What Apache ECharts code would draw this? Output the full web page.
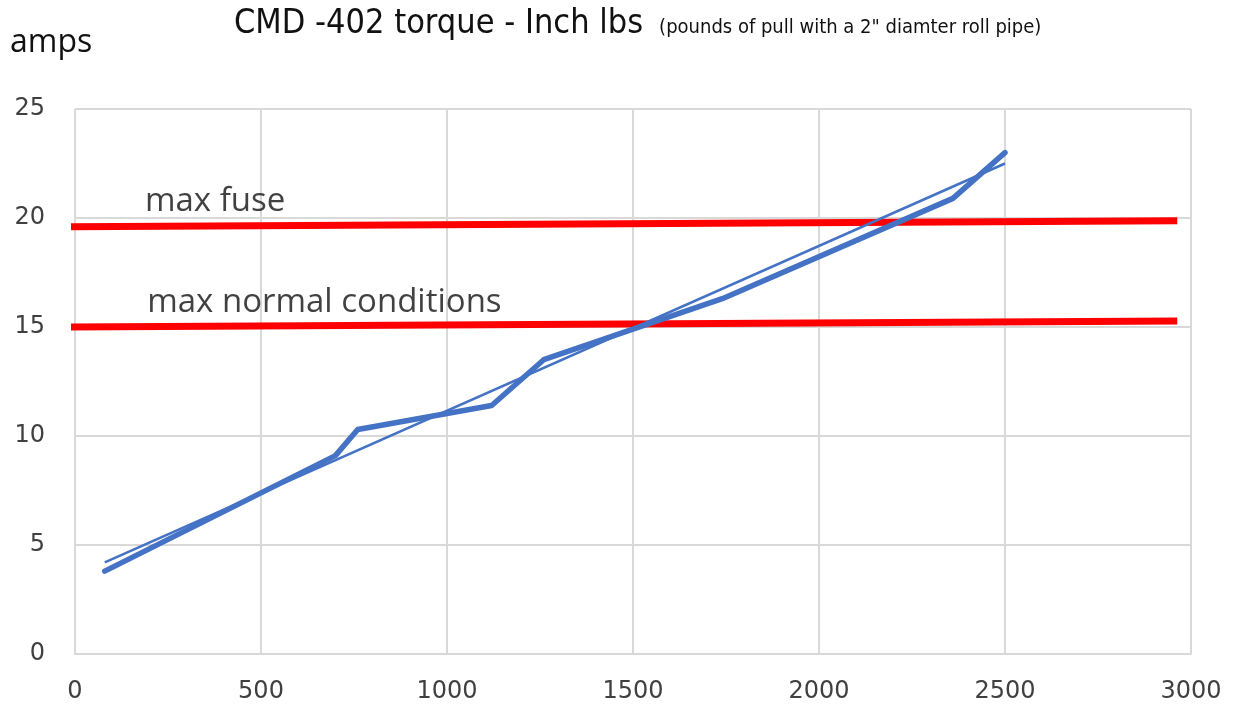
<!DOCTYPE html>
<html>
<head>
    <meta charset="utf-8">
    <title>CMD -402 torque</title>
    <script src="https://cdn.jsdelivr.net/npm/echarts@6/dist/echarts.min.js"></script>
</head>
<body style="margin:0;background:#fff">
<div id="main" style="width:1239px;height:709px"></div>
<script type="text/javascript">
    // measured amps vs inch lbs
    var torque = [80, 700, 760, 1120, 1260, 1740, 2360, 2500];
    var amps = [3.8, 9.1, 10.3, 11.4, 13.5, 16.3, 20.9, 23.0];
    // linear trend line (start, end)
    var trendX = [80, 2500];
    var trendY = [4.2, 22.5];
    // hand drawn limit lines
    var fuseX = [-24, 2963];
    var fuseY = [19.6, 19.87];
    var normalX = [-24, 2963];
    var normalY = [15.0, 15.27];
    // annotation text anchors (left, middle)
    var notes = [
        {text: 'max fuse', x: 188, y: 20.75},
        {text: 'max normal conditions', x: 194, y: 16.1}
    ];

    function pairs(xs, ys) {
        var out = [];
        for (var i = 0; i < xs.length; i++) out.push([xs[i], ys[i]]);
        return out;
    }

    var myChart = echarts.init(document.getElementById('main'));
    var axisFont = {fontFamily: 'DejaVu Sans', fontSize: 24, color: '#404040'};
    var narrow = "'DejaVu Sans Condensed', 'Liberation Sans Narrow', 'Roboto', sans-serif";

    var option = {
        animation: false,
        title: {
            text: '{a|CMD -402 torque - Inch lbs}  {b|(pounds of pull with a 2" diamter roll pipe)}',
            left: 229,
            top: 2,
            textStyle: {
                fontWeight: 'normal',
                rich: {
                    a: {fontFamily: narrow, fontSize: 34, fontWeight: 'normal', color: '#111'},
                    b: {fontFamily: narrow, fontSize: 20, fontWeight: 'normal', color: '#111', padding: [8, 0, 0, 6]}
                }
            }
        },
        grid: {left: 75, right: 48, top: 109, bottom: 55},
        xAxis: {
            type: 'value',
            min: 0,
            max: 3000,
            interval: 500,
            axisLine: {lineStyle: {color: '#d9d9d9', width: 2}},
            axisTick: {show: false},
            splitLine: {lineStyle: {color: '#d9d9d9', width: 2}},
            axisLabel: Object.assign({margin: 26, formatter: function (v) { return String(v); }}, axisFont)
        },
        yAxis: {
            type: 'value',
            min: 0,
            max: 25,
            interval: 5,
            name: 'amps',
            nameGap: 50,
            nameTextStyle: {fontFamily: 'Open Sans', fontSize: 32, color: '#111', align: 'left', padding: [0, 0, 0, -65]},
            axisLine: {show: false},
            axisTick: {show: false},
            splitLine: {lineStyle: {color: '#d9d9d9', width: 2}},
            axisLabel: Object.assign({margin: 30}, axisFont)
        },
        series: [
            {
                name: 'max fuse',
                type: 'line',
                data: pairs(fuseX, fuseY),
                clip: false,
                symbol: 'none',
                lineStyle: {color: '#ff0000', width: 7}
            },
            {
                name: 'max normal',
                type: 'line',
                data: pairs(normalX, normalY),
                clip: false,
                symbol: 'none',
                lineStyle: {color: '#ff0000', width: 7}
            },
            {
                name: 'trend',
                type: 'line',
                data: pairs(trendX, trendY),
                symbol: 'none',
                lineStyle: {color: '#4472c4', width: 2.5}
            },
            {
                name: 'amps',
                type: 'line',
                data: pairs(torque, amps),
                symbol: 'none',
                lineStyle: {color: '#4472c4', width: 5.5, cap: 'round', join: 'round'}
            },
            {
                name: 'notes',
                type: 'scatter',
                symbolSize: 0,
                data: notes.map(function (n) {
                    return {value: [n.x, n.y], label: {formatter: n.text}};
                }),
                label: {
                    show: true,
                    position: 'right',
                    distance: 0,
                    fontFamily: 'Open Sans',
                    fontSize: 33,
                    color: '#111'
                }
            }
        ]
    };

    myChart.setOption(option);
</script>
</body>
</html>
